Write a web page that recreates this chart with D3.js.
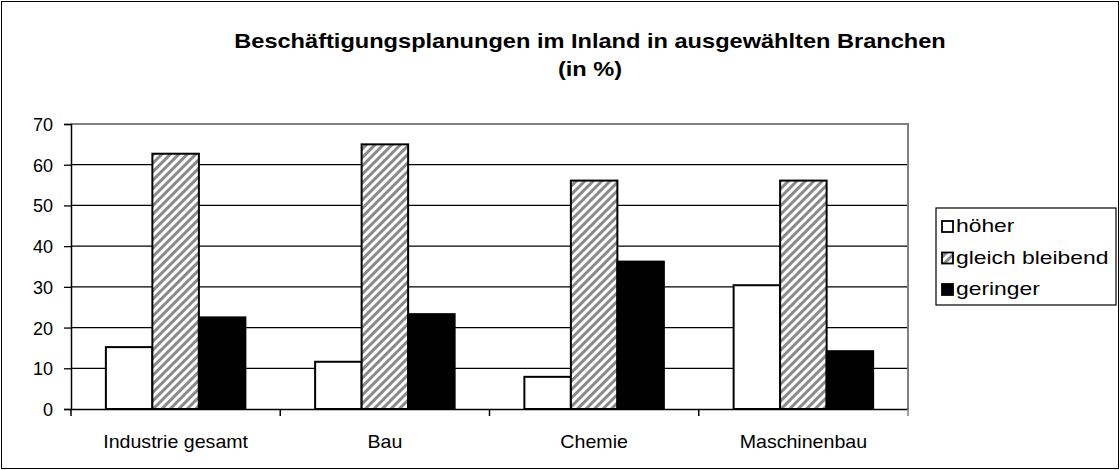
<!DOCTYPE html>
<html>
<head>
<meta charset="utf-8">
<script src="https://cdn.jsdelivr.net/npm/d3@7"></script>
<style>
  body { margin: 0; background: #fff; }
  text { font-family: "Liberation Sans", Arial, sans-serif; fill: #000; }
</style>
</head>
<body>
<svg id="canvas" width="1120" height="470"></svg>
<script>
// chart data
let categories = ["Industrie gesamt", "Bau", "Chemie", "Maschinenbau"];
let seriesNames = ["höher", "gleich bleibend", "geringer"];
let hoeher = [15.2, 11.6, 7.9, 30.4];
let gleich = [62.7, 65, 56.1, 56.1];
let geringer = [22.5, 23.3, 36.2, 14.2];
let yTicks = [0, 10, 20, 30, 40, 50, 60, 70];
let titleLines = ["Beschäftigungsplanungen im Inland in ausgewählten Branchen", "(in %)"];

let canvas = d3.select("#canvas");
let W = 1120, H = 470;
let plot = { left: 71, right: 908, top: 124, bottom: 409 };

// hatch pattern for the middle series
let defs = canvas.append("defs");
let pat = defs.append("pattern")
  .attr("id", "hatch")
  .attr("patternUnits", "userSpaceOnUse")
  .attr("width", 6).attr("height", 6)
  .attr("patternTransform", "rotate(45)");
pat.append("rect").attr("width", 6).attr("height", 6).attr("fill", "#fff");
pat.append("rect").attr("x", 0).attr("width", 3).attr("height", 6).attr("fill", "#8a8a8a");

// outer frame
canvas.append("rect")
  .attr("x", 1.5).attr("y", 1.5).attr("width", W - 3).attr("height", H - 3)
  .attr("fill", "#fff").attr("stroke", "#000").attr("stroke-width", 1);

let x = d3.scaleBand().domain(categories).range([plot.left, plot.right]);
let inner = d3.scaleBand().domain(seriesNames)
  .range([0, x.bandwidth()]).paddingOuter(0.75).paddingInner(0);
let y = d3.scaleLinear().domain([0, 70]).range([plot.bottom, plot.top]);

// gridlines
canvas.append("g").selectAll("line")
  .data(yTicks.filter(d => d > 0 && d < 70))
  .enter().append("line")
  .attr("x1", plot.left).attr("x2", plot.right)
  .attr("y1", d => y(d)).attr("y2", d => y(d))
  .attr("stroke", "#000").attr("stroke-width", 1.3);

// plot area border (grey top and right)
canvas.append("path")
  .attr("d", `M${plot.left},${plot.top}H${plot.right}V${plot.bottom}`)
  .attr("fill", "none").attr("stroke", "#808080").attr("stroke-width", 2);

let fills = ["#fff", "url(#hatch)", "#000"];
let values = [hoeher, gleich, geringer];

let rows = [];
categories.forEach((c, i) => {
  seriesNames.forEach((s, j) => {
    rows.push({ cat: c, series: s, value: values[j][i], fill: fills[j] });
  });
});

canvas.append("g").selectAll("rect")
  .data(rows)
  .enter().append("rect")
  .attr("x", d => x(d.cat) + inner(d.series))
  .attr("y", d => y(d.value))
  .attr("width", inner.bandwidth())
  .attr("height", d => y(0) - y(d.value))
  .attr("fill", d => d.fill)
  .attr("stroke", "#000").attr("stroke-width", 2);

// y axis
let yAxis = canvas.append("g")
  .attr("transform", `translate(${plot.left},0)`)
  .call(d3.axisLeft(y).tickValues(yTicks).tickSize(7).tickPadding(11).tickFormat(d3.format("d")));
yAxis.select(".domain").attr("stroke", "#000").attr("stroke-width", 1.5);
yAxis.selectAll(".tick line").attr("stroke", "#000").attr("stroke-width", 1.3);
yAxis.selectAll("text").attr("font-size", 18).attr("dy", "0.36em")
  .style("font-family", "Liberation Sans, Arial, sans-serif");

// x axis
let xAxis = canvas.append("g")
  .attr("transform", `translate(0,${plot.bottom})`)
  .call(d3.axisBottom(x).tickSize(0).tickPadding(0).tickFormat(""));
xAxis.select(".domain").attr("stroke", "#000").attr("stroke-width", 1.5);
xAxis.selectAll(".tick").append("text")
  .attr("y", 39).attr("text-anchor", "middle")
  .attr("font-size", 18.5).attr("fill", "#000")
  .style("font-family", "Liberation Sans, Arial, sans-serif")
  .attr("transform", "scale(1.06,1)")
  .text(d => d);

// category boundary ticks
canvas.append("g").selectAll("line")
  .data(categories.map(c => x(c)).concat([plot.right]))
  .enter().append("line")
  .attr("x1", d => d).attr("x2", d => d)
  .attr("y1", plot.bottom).attr("y2", plot.bottom + 7)
  .attr("stroke", d => d === plot.right ? "#808080" : "#000").attr("stroke-width", 1.5);

// title (reference text is slightly wide, stretch horizontally)
canvas.append("g").selectAll("g")
  .data(titleLines)
  .enter().append("g")
  .attr("transform", (d, i) => `translate(590,${48 + i * 28}) scale(1.18,1)`)
  .append("text")
  .attr("text-anchor", "middle")
  .attr("font-size", 20).attr("font-weight", "bold")
  .text(d => d);

// legend
let legend = canvas.append("g").attr("transform", "translate(936,208)");
legend.append("rect")
  .attr("width", 180).attr("height", 97)
  .attr("fill", "#fff").attr("stroke", "#000").attr("stroke-width", 1.2);
let items = legend.selectAll("g.item")
  .data(seriesNames)
  .enter().append("g")
  .attr("transform", (d, i) => `translate(6,${24 + i * 31.5})`);
items.append("rect")
  .attr("x", 0).attr("y", -11).attr("width", 11).attr("height", 11)
  .attr("fill", (d, i) => fills[i]).attr("stroke", "#000").attr("stroke-width", 1.8);
items.append("g")
  .attr("transform", "translate(14,0) scale(1.27,1)")
  .append("text")
  .attr("font-size", 18)
  .text(d => d);
</script>
</body>
</html>
